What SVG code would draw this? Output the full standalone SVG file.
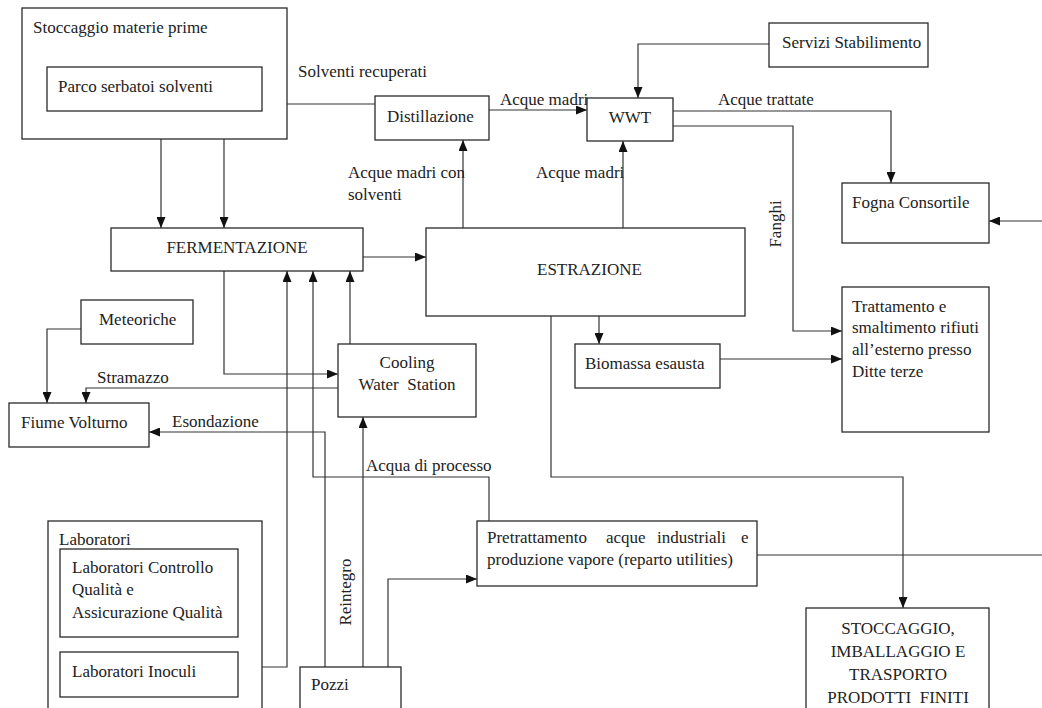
<svg xmlns="http://www.w3.org/2000/svg" width="1042" height="708" viewBox="0 0 1042 708">
<style>
rect{fill:#fff;stroke:#2a2a2a;stroke-width:1.3}
text{font-family:"Liberation Serif","Times New Roman",serif;font-size:17px;fill:#222}
.c{text-anchor:middle}
#connectors path{fill:none;stroke:#333;stroke-width:1.2}
</style>
<defs>
<marker id="ah" markerUnits="userSpaceOnUse" markerWidth="11" markerHeight="9" refX="11" refY="4.5" orient="auto">
<path d="M0,0 L11,4.5 L0,9 z" fill="#111"/>
</marker>
</defs>
<rect x="0" y="0" width="1042" height="708" style="fill:#fff;stroke:none"/>
<g id="connectors">
<path d="M161,139 V228" marker-end="url(#ah)"/>
<path d="M224,111 V228" marker-end="url(#ah)"/>
<path d="M375,104 H262" marker-end="url(#ah)"/>
<path d="M489,110 H587" marker-end="url(#ah)"/>
<path d="M769,44 H638 V98" marker-end="url(#ah)"/>
<path d="M673,111 H891 V183" marker-end="url(#ah)"/>
<path d="M673,126 H793 V331 H842" marker-end="url(#ah)"/>
<path d="M463,228 V140" marker-end="url(#ah)"/>
<path d="M623,228 V141" marker-end="url(#ah)"/>
<path d="M363,257 H426" marker-end="url(#ah)"/>
<path d="M1042,221 H989" marker-end="url(#ah)"/>
<path d="M599,316 V344" marker-end="url(#ah)"/>
<path d="M720,359 H842" marker-end="url(#ah)"/>
<path d="M551,316 V477 H903 V608" marker-end="url(#ah)"/>
<path d="M757,555 H1042"/>
<path d="M81,329 H47 V403" marker-end="url(#ah)"/>
<path d="M338,388 H86 V403" marker-end="url(#ah)"/>
<path d="M224,271 V374 H338" marker-end="url(#ah)"/>
<path d="M350,344 V271" marker-end="url(#ah)"/>
<path d="M238,667 H287 V271" marker-end="url(#ah)"/>
<path d="M489,521 V477 H313 V271" marker-end="url(#ah)"/>
<path d="M325,667 V432 H149" marker-end="url(#ah)"/>
<path d="M363,667 V417" marker-end="url(#ah)"/>
<path d="M388,667 V579 H477" marker-end="url(#ah)"/>
</g>
<g id="labels">
<text x="298" y="77">Solventi recuperati</text>
<text x="500" y="105">Acque madri</text>
<text x="718" y="105">Acque trattate</text>
<text x="348" y="178">Acque madri con</text>
<text x="348" y="200">solventi</text>
<text x="536" y="178">Acque madri</text>
<text class="c" transform="translate(781,224) rotate(-90)">Fanghi</text>
<text x="97" y="383">Stramazzo</text>
<text x="172" y="427">Esondazione</text>
<text x="366" y="471">Acqua di processo</text>
<text class="c" transform="translate(351,592) rotate(-90)">Reintegro</text>
</g>
<g id="stoccaggio-materie-prime"><rect x="22" y="8" width="265" height="131"/><text x="33" y="33">Stoccaggio materie prime</text></g>
<g id="parco-serbatoi"><rect x="47" y="67" width="215" height="44"/><text x="58" y="92">Parco serbatoi solventi</text></g>
<g id="distillazione"><rect x="375" y="96" width="114" height="44"/><text x="387" y="122">Distillazione</text></g>
<g id="wwt"><rect x="587" y="98" width="86" height="43"/><text class="c" x="630" y="123">WWT</text></g>
<g id="servizi"><rect x="769" y="23" width="159" height="44"/><text x="782" y="48">Servizi Stabilimento</text></g>
<g id="fermentazione"><rect x="111" y="228" width="252" height="43"/><text class="c" x="237" y="253">FERMENTAZIONE</text></g>
<g id="estrazione"><rect x="426" y="228" width="319" height="88"/><text x="537" y="275">ESTRAZIONE</text></g>
<g id="fogna"><rect x="842" y="183" width="147" height="60"/><text x="852" y="208">Fogna Consortile</text></g>
<g id="trattamento"><rect x="842" y="287" width="147" height="145"/>
<text x="852" y="312">Trattamento e</text>
<text x="852" y="333">smaltimento rifiuti</text>
<text x="852" y="355">all’esterno presso</text>
<text x="852" y="377">Ditte terze</text></g>
<g id="meteoriche"><rect x="81" y="300" width="112" height="44"/><text x="99" y="325">Meteoriche</text></g>
<g id="cooling"><rect x="338" y="344" width="138" height="73"/><text class="c" x="407" y="368">Cooling</text><text class="c" x="407" y="390" xml:space="preserve">Water  Station</text></g>
<g id="biomassa"><rect x="575" y="344" width="145" height="44"/><text x="585" y="369">Biomassa esausta</text></g>
<g id="fiume"><rect x="9" y="403" width="140" height="44"/><text x="21" y="428">Fiume Volturno</text></g>
<g id="laboratori"><rect x="48" y="521" width="214" height="200"/><text x="59" y="545">Laboratori</text></g>
<g id="lab-cq"><rect x="60" y="549" width="178" height="88"/>
<text x="72" y="573">Laboratori Controllo</text>
<text x="72" y="595">Qualità e</text>
<text x="72" y="618">Assicurazione Qualità</text></g>
<g id="lab-inoculi"><rect x="60" y="652" width="178" height="45"/><text x="72" y="677">Laboratori Inoculi</text></g>
<g id="pozzi"><rect x="300" y="667" width="101" height="60"/><text x="311" y="690">Pozzi</text></g>
<g id="pretrattamento"><rect x="477" y="521" width="280" height="65"/>
<text y="543"><tspan x="487">Pretrattamento</tspan><tspan x="606">acque</tspan><tspan x="657">industriali</tspan><tspan x="741">e</tspan></text>
<text x="487" y="565">produzione vapore (reparto utilities)</text></g>
<g id="stoccaggio-prodotti"><rect x="806" y="608" width="183" height="110"/>
<text class="c" x="898" y="634">STOCCAGGIO,</text>
<text class="c" x="898" y="657">IMBALLAGGIO E</text>
<text class="c" x="898" y="680">TRASPORTO</text>
<text class="c" x="898" y="703" xml:space="preserve">PRODOTTI  FINITI</text></g>
</svg>
